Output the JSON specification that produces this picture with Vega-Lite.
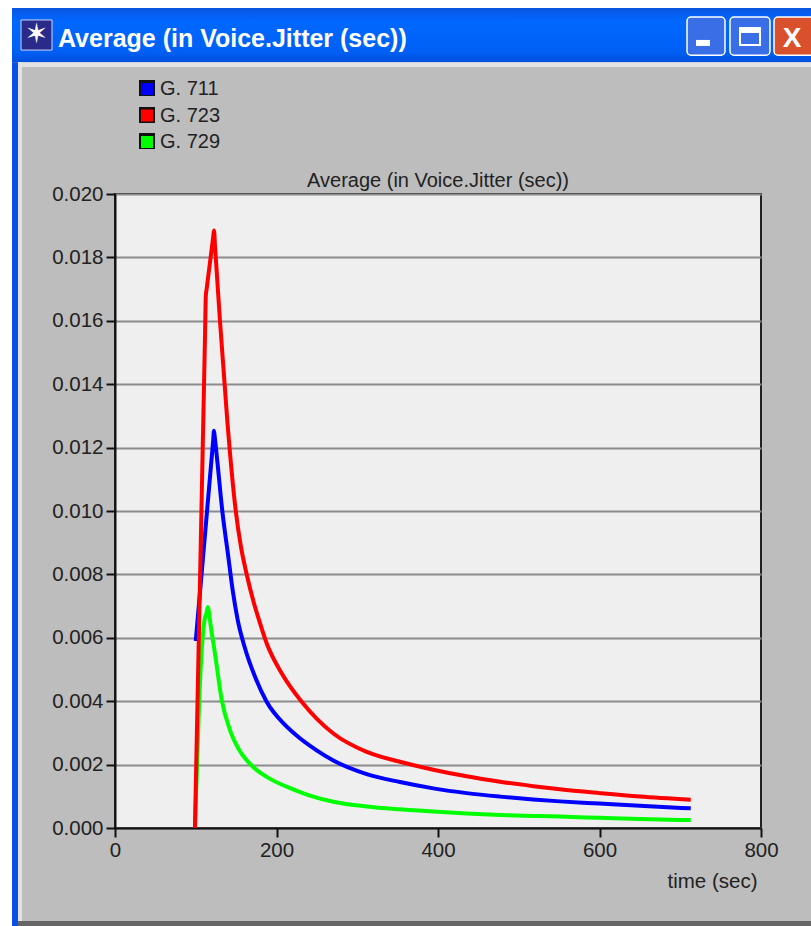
{"$schema":"https://vega.github.io/schema/vega-lite/v6.json","width":646,"height":634,"autosize":"none","padding":{"left":115,"top":194,"right":50,"bottom":98},"background":"#bdbdbd","title":{"text":"Average (in Voice.Jitter (sec))","font":"Liberation Sans","fontSize":20,"fontWeight":"normal","color":"#222222","anchor":"middle","frame":"group","offset":0,"dy":191},"config":{"view":{"fill":"#efefef","stroke":"#222222","strokeWidth":2}},"layer":[
{"data":{"values":[{}]},"mark":{"type":"rect","fill":"#ffffff"},"encoding":{"x":{"datum":-142.41,"type":"quantitative","scale":{"domain":[0,800]}},"x2":{"datum":861.92},"y":{"datum":0.02612,"type":"quantitative","scale":{"domain":[0,0.02]}},"y2":{"datum":0.02587}}},
{"data":{"values":[{}]},"mark":{"type":"rect","fill":"#ffffff"},"encoding":{"x":{"datum":-142.41,"type":"quantitative","scale":{"domain":[0,800]}},"x2":{"datum":-127.55},"y":{"datum":0.02612,"type":"quantitative","scale":{"domain":[0,0.02]}},"y2":{"datum":-0.00309}}},
{"data":{"values":[{}]},"mark":{"type":"rect","fill":{"gradient":"linear","x1":0,"y1":0,"x2":0,"y2":1,"stops":[{"offset":0,"color":"#0a55e0"},{"offset":0.25,"color":"#0068ff"},{"offset":0.8,"color":"#0060f5"},{"offset":1,"color":"#0050dd"}]}},"encoding":{"x":{"datum":-127.55,"type":"quantitative","scale":{"domain":[0,800]}},"x2":{"datum":861.92},"y":{"datum":0.02587,"type":"quantitative","scale":{"domain":[0,0.02]}},"y2":{"datum":0.02416}}},
{"data":{"values":[{}]},"mark":{"type":"rect","fill":"#0a50e6"},"encoding":{"x":{"datum":-127.55,"type":"quantitative","scale":{"domain":[0,800]}},"x2":{"datum":-120.12},"y":{"datum":0.02416,"type":"quantitative","scale":{"domain":[0,0.02]}},"y2":{"datum":-0.00309}}},
{"data":{"values":[{}]},"mark":{"type":"rect","fill":"#e2e2e2"},"encoding":{"x":{"datum":-120.12,"type":"quantitative","scale":{"domain":[0,800]}},"x2":{"datum":861.92},"y":{"datum":0.02416,"type":"quantitative","scale":{"domain":[0,0.02]}},"y2":{"datum":0.02401}}},
{"data":{"values":[{}]},"mark":{"type":"rect","fill":"#e2e2e2"},"encoding":{"x":{"datum":-120.12,"type":"quantitative","scale":{"domain":[0,800]}},"x2":{"datum":-115.17},"y":{"datum":0.02416,"type":"quantitative","scale":{"domain":[0,0.02]}},"y2":{"datum":-0.00293}}},
{"data":{"values":[{}]},"mark":{"type":"rect","fill":"#666666"},"encoding":{"x":{"datum":-120.12,"type":"quantitative","scale":{"domain":[0,800]}},"x2":{"datum":861.92},"y":{"datum":-0.00293,"type":"quantitative","scale":{"domain":[0,0.02]}},"y2":{"datum":-0.00309}}},
{"data":{"values":[{}]},"mark":{"type":"rect","fill":"#2a2a8a","stroke":"#cfd6f5","strokeWidth":1},"encoding":{"x":{"datum":-116.4,"type":"quantitative","scale":{"domain":[0,800]}},"x2":{"datum":-78.0},"y":{"datum":0.02549,"type":"quantitative","scale":{"domain":[0,0.02]}},"y2":{"datum":0.02454}}},
{"data":{"values":[{}]},"mark":{"type":"text","text":"✶","font":"DejaVu Sans","fontSize":28,"color":"#ffffff","align":"center","baseline":"middle"},"encoding":{"x":{"datum":-97.2,"type":"quantitative","scale":{"domain":[0,800]}},"y":{"datum":0.02502,"type":"quantitative","scale":{"domain":[0,0.02]}}}},
{"data":{"values":[{}]},"mark":{"type":"text","text":"Average (in Voice.Jitter (sec))","font":"Liberation Sans","fontWeight":"bold","fontSize":25,"color":"#ffffff","align":"left","baseline":"alphabetic"},"encoding":{"x":{"datum":-70.6,"type":"quantitative","scale":{"domain":[0,800]}},"y":{"datum":0.02464,"type":"quantitative","scale":{"domain":[0,0.02]}}}},
{"data":{"values":[{}]},"mark":{"type":"rect","fill":"#3a6ee6","stroke":"#ffffff","strokeWidth":1.5,"cornerRadius":4},"encoding":{"x":{"datum":708.36,"type":"quantitative","scale":{"domain":[0,800]}},"x2":{"datum":755.42},"y":{"datum":0.02558,"type":"quantitative","scale":{"domain":[0,0.02]}},"y2":{"datum":0.02438}}},
{"data":{"values":[{}]},"mark":{"type":"rect","fill":"#ffffff"},"encoding":{"x":{"datum":719.5,"type":"quantitative","scale":{"domain":[0,800]}},"x2":{"datum":736.8},"y":{"datum":0.02486,"type":"quantitative","scale":{"domain":[0,0.02]}},"y2":{"datum":0.02467}}},
{"data":{"values":[{}]},"mark":{"type":"rect","fill":"#3a6ee6","stroke":"#ffffff","strokeWidth":1.5,"cornerRadius":4},"encoding":{"x":{"datum":761.61,"type":"quantitative","scale":{"domain":[0,800]}},"x2":{"datum":811.15},"y":{"datum":0.02558,"type":"quantitative","scale":{"domain":[0,0.02]}},"y2":{"datum":0.02438}}},
{"data":{"values":[{}]},"mark":{"type":"rect","fill":"#3a6ee6","stroke":"#ffffff","strokeWidth":2},"encoding":{"x":{"datum":774,"type":"quantitative","scale":{"domain":[0,800]}},"x2":{"datum":798.8},"y":{"datum":0.02524,"type":"quantitative","scale":{"domain":[0,0.02]}},"y2":{"datum":0.0247}}},
{"data":{"values":[{}]},"mark":{"type":"rect","fill":"#ffffff"},"encoding":{"x":{"datum":774,"type":"quantitative","scale":{"domain":[0,800]}},"x2":{"datum":798.8},"y":{"datum":0.02524,"type":"quantitative","scale":{"domain":[0,0.02]}},"y2":{"datum":0.02508}}},
{"data":{"values":[{}]},"mark":{"type":"rect","fill":"#d9512c","stroke":"#ffffff","strokeWidth":1.5,"cornerRadius":4},"encoding":{"x":{"datum":816.1,"type":"quantitative","scale":{"domain":[0,800]}},"x2":{"datum":870},"y":{"datum":0.02558,"type":"quantitative","scale":{"domain":[0,0.02]}},"y2":{"datum":0.02438}}},
{"data":{"values":[{}]},"mark":{"type":"text","text":"X","font":"Liberation Sans","fontWeight":"bold","fontSize":28,"color":"#ffffff","align":"center","baseline":"alphabetic"},"encoding":{"x":{"datum":838.4,"type":"quantitative","scale":{"domain":[0,800]}},"y":{"datum":0.02464,"type":"quantitative","scale":{"domain":[0,0.02]}}}},
{"data":{"values":[{}]},"mark":{"type":"rect","fill":"#111111"},"encoding":{"x":{"datum":29.72,"type":"quantitative","scale":{"domain":[0,800]}},"x2":{"datum":49.54},"y":{"datum":0.023596,"type":"quantitative","scale":{"domain":[0,0.02]}},"y2":{"datum":0.023091}}},
{"data":{"values":[{}]},"mark":{"type":"rect","fill":"#111111"},"encoding":{"x":{"datum":29.72,"type":"quantitative","scale":{"domain":[0,800]}},"x2":{"datum":49.54},"y":{"datum":0.022745,"type":"quantitative","scale":{"domain":[0,0.02]}},"y2":{"datum":0.02224}}},
{"data":{"values":[{}]},"mark":{"type":"rect","fill":"#111111"},"encoding":{"x":{"datum":29.72,"type":"quantitative","scale":{"domain":[0,800]}},"x2":{"datum":49.54},"y":{"datum":0.021924,"type":"quantitative","scale":{"domain":[0,0.02]}},"y2":{"datum":0.02142}}},
{"data":{"values":[
{"s":"G. 729","t":99,"v":0},{"s":"G. 729","t":104.5,"v":0.0042},{"s":"G. 729","t":110.5,"v":0.0065},{"s":"G. 729","t":113.5,"v":0.0068},{"s":"G. 729","t":115,"v":0.00697},{"s":"G. 729","t":116.5,"v":0.0068},{"s":"G. 729","t":117.6,"v":0.00656},{"s":"G. 729","t":123.8,"v":0.00551},{"s":"G. 729","t":132.1,"v":0.00405},{"s":"G. 729","t":142.4,"v":0.00309},{"s":"G. 729","t":152.7,"v":0.00251},{"s":"G. 729","t":169.3,"v":0.00197},{"s":"G. 729","t":189.9,"v":0.00158},{"s":"G. 729","t":214.6,"v":0.00128},{"s":"G. 729","t":239.4,"v":0.00104},{"s":"G. 729","t":270.4,"v":0.00083},{"s":"G. 729","t":311.7,"v":0.00068},{"s":"G. 729","t":352.9,"v":0.00059},{"s":"G. 729","t":394.2,"v":0.00052},{"s":"G. 729","t":435.5,"v":0.00046},{"s":"G. 729","t":476.8,"v":0.00041},{"s":"G. 729","t":518,"v":0.00038},{"s":"G. 729","t":551,"v":0.00036},{"s":"G. 729","t":600,"v":0.00032},{"s":"G. 729","t":650,"v":0.00028},{"s":"G. 729","t":713,"v":0.00025},
{"s":"G. 711","t":100,"v":0.0059},{"s":"G. 711","t":121.5,"v":0.0122},{"s":"G. 711","t":122.6,"v":0.01253},{"s":"G. 711","t":123.7,"v":0.0123},{"s":"G. 711","t":127,"v":0.0115},{"s":"G. 711","t":132.9,"v":0.01},{"s":"G. 711","t":140.3,"v":0.00856},{"s":"G. 711","t":145.7,"v":0.00751},{"s":"G. 711","t":152,"v":0.00656},{"s":"G. 711","t":161,"v":0.00567},{"s":"G. 711","t":173.4,"v":0.00477},{"s":"G. 711","t":187.8,"v":0.00398},{"s":"G. 711","t":210.5,"v":0.00325},{"s":"G. 711","t":229,"v":0.00283},{"s":"G. 711","t":249.7,"v":0.00245},{"s":"G. 711","t":270.4,"v":0.00213},{"s":"G. 711","t":311.7,"v":0.0017},{"s":"G. 711","t":352.9,"v":0.00145},{"s":"G. 711","t":394.2,"v":0.00125},{"s":"G. 711","t":435.5,"v":0.0011},{"s":"G. 711","t":476.8,"v":0.00099},{"s":"G. 711","t":518,"v":0.0009},{"s":"G. 711","t":551,"v":0.00084},{"s":"G. 711","t":600,"v":0.00077},{"s":"G. 711","t":650,"v":0.0007},{"s":"G. 711","t":713,"v":0.00062},
{"s":"G. 723","t":99,"v":0},{"s":"G. 723","t":111.5,"v":0.01556},{"s":"G. 723","t":112.5,"v":0.0168},{"s":"G. 723","t":113.5,"v":0.017},{"s":"G. 723","t":121.5,"v":0.01863},{"s":"G. 723","t":122.6,"v":0.01885},{"s":"G. 723","t":124,"v":0.0183},{"s":"G. 723","t":130,"v":0.016},{"s":"G. 723","t":139,"v":0.01287},{"s":"G. 723","t":142.4,"v":0.01183},{"s":"G. 723","t":149.4,"v":0.01003},{"s":"G. 723","t":156,"v":0.00887},{"s":"G. 723","t":162.2,"v":0.0081},{"s":"G. 723","t":172,"v":0.0071},{"s":"G. 723","t":178.4,"v":0.00656},{"s":"G. 723","t":187.8,"v":0.00583},{"s":"G. 723","t":206.4,"v":0.00488},{"s":"G. 723","t":231.2,"v":0.00398},{"s":"G. 723","t":249.7,"v":0.00345},{"s":"G. 723","t":270.4,"v":0.00298},{"s":"G. 723","t":311.7,"v":0.0024},{"s":"G. 723","t":352.9,"v":0.00209},{"s":"G. 723","t":394.2,"v":0.00184},{"s":"G. 723","t":435.5,"v":0.00163},{"s":"G. 723","t":476.8,"v":0.00146},{"s":"G. 723","t":518,"v":0.00132},{"s":"G. 723","t":551,"v":0.00122},{"s":"G. 723","t":600,"v":0.0011},{"s":"G. 723","t":650,"v":0.00099},{"s":"G. 723","t":713,"v":0.00089}
]},"mark":{"type":"line","strokeWidth":4,"strokeJoin":"round","interpolate":"monotone","clip":false},"encoding":{
"x":{"field":"t","type":"quantitative","scale":{"domain":[0,800]},"axis":{"values":[0,200,400,600,800],"title":"time (sec)","titleFont":"Liberation Sans","titleFontSize":20.5,"titleFontWeight":"normal","titleColor":"#222222","titleAnchor":"end","titleAlign":"right","titleBaseline":"alphabetic","titleX":642,"titleY":59,"labelFont":"Liberation Sans","labelFontSize":20.5,"labelColor":"#222222","labelPadding":3,"domainColor":"#111111","domainWidth":2,"tickColor":"#111111","tickWidth":2,"tickSize":9,"grid":false,"labelFlush":false,"labelOverlap":false}},
"y":{"field":"v","type":"quantitative","scale":{"domain":[0,0.02]},"axis":{"values":[0,0.002,0.004,0.006,0.008,0.01,0.012,0.014,0.016,0.018,0.02],"format":".3f","title":null,"labelFont":"Liberation Sans","labelFontSize":20.5,"labelColor":"#222222","labelPadding":3,"domainColor":"#111111","domainWidth":2,"tickColor":"#111111","tickWidth":2,"tickSize":9,"grid":true,"gridColor":"#8c8c8c","gridWidth":2,"labelOverlap":false}},
"color":{"field":"s","type":"nominal","scale":{"domain":["G. 711","G. 723","G. 729"],"range":["#0000ff","#ff0000","#00ff00"]},"legend":{"title":null,"orient":"none","legendX":22,"legendY":-115,"symbolType":"square","symbolSize":110,"symbolStrokeWidth":1.5,"symbolOpacity":1,"labelFont":"Liberation Sans","labelFontSize":20,"labelColor":"#222222","labelOffset":3,"rowPadding":6.5,"encode":{"symbols":{"update":{"fill":{"scale":"color","field":"value"}}}}}}}}
]}
